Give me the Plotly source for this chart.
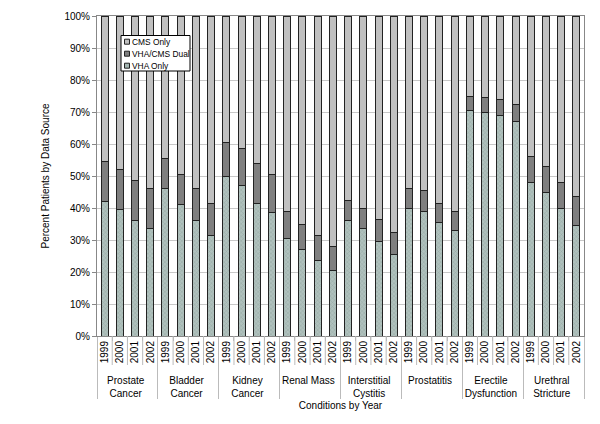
import plotly.graph_objects as go

conditions = ["Prostate<br>Cancer", "Bladder<br>Cancer", "Kidney<br>Cancer", "Renal Mass",
              "Interstitial<br>Cystitis", "Prostatitis", "Erectile<br>Dysfunction", "Urethral<br>Stricture"]
years = ["1999", "2000", "2001", "2002"]

vha_only = [42, 39.5, 36, 33.5,
            46, 41, 36, 31.5,
            50, 47, 41.5, 38.5,
            30.5, 27, 23.5, 20.5,
            36, 33.5, 29.5, 25.5,
            40, 39, 35.5, 33,
            70.5, 70, 69, 67,
            48, 45, 40, 34.5]
vha_plus_dual = [54.5, 52, 48.5, 46,
                 55.5, 50.5, 46, 41.5,
                 60.5, 58.5, 54, 50.5,
                 39, 35, 31.5, 28,
                 42.5, 40, 36.5, 32.5,
                 46, 45.5, 41.5, 39,
                 75, 74.5, 74, 72.5,
                 56, 53, 48, 43.5]
dual = [round(a - b, 2) for a, b in zip(vha_plus_dual, vha_only)]
cms_only = [round(100 - a, 2) for a in vha_plus_dual]

series_names = ["VHA Only", "VHA/CMS Dual", "CMS Only"]
series_colors = ["#a3b5b1", "#7f7f7f", "#c0c0c0"]

x_outer = [c for c in conditions for _ in years]
x_inner = [y for _ in conditions for y in years]
x = [x_outer, x_inner]

line = dict(color="#222222", width=1)
fig = go.Figure()
fig.add_bar(x=x, y=vha_only, name=series_names[0],
            marker=dict(color=series_colors[0], line=line,
                        pattern=dict(shape="x", size=3, fgcolor="#788d89", bgcolor="#b0c1bd", solidity=0.3)))
fig.add_bar(x=x, y=dual, name=series_names[1],
            marker=dict(color=series_colors[1], line=line))
fig.add_bar(x=x, y=cms_only, name=series_names[2],
            marker=dict(color=series_colors[2], line=line))

# page is rendered with an 8px body margin, so the figure is a bit smaller
OFF = 8
W, H = 592, 416
L, R, T, B = 89, 16, 8, 88
pw, ph = W - L - R, H - T - B


def px(xp):  # page x -> paper fraction
    return (xp - OFF - L) / pw


def py(yp):  # page y -> paper fraction
    return (H - B - (yp - OFF)) / ph


shapes = []
annotations = []

# long grey tick marks between the years inside each group (Excel style)
n_groups, n_years = len(conditions), len(years)
n = n_groups * n_years
for i in range(1, n):
    if i % n_years == 0:
        continue
    shapes.append(dict(type="line", xref="paper", yref="paper",
                       x0=i / n, x1=i / n, y0=0, y1=py(365),
                       line=dict(color="#bbbbbb", width=1)))

# compact legend box
shapes.append(dict(type="rect", xref="paper", yref="paper",
                   x0=px(121), x1=px(190), y0=py(71), y1=py(35.5),
                   line=dict(color="#000000", width=1), fillcolor="white", layer="above"))
legend_order = [2, 1, 0]
for i, k in enumerate(legend_order):
    cy = 41.7 + 12 * i
    shapes.append(dict(type="rect", xref="paper", yref="paper",
                       x0=px(124.5), x1=px(129.5), y0=py(cy + 2.5), y1=py(cy - 2.5),
                       line=dict(color="#222222", width=1), fillcolor=series_colors[k], layer="above"))
    annotations.append(dict(xref="paper", yref="paper", x=px(130), y=py(cy),
                            xanchor="left", yanchor="middle", text=series_names[k],
                            showarrow=False, font=dict(size=8.4)))

fig.update_layout(
    barmode="stack", bargap=0.54,
    width=W, height=H,
    margin=dict(l=L, r=R, t=T, b=B),
    paper_bgcolor="white", plot_bgcolor="white",
    font=dict(family="Liberation Sans, Arial, sans-serif", size=10, color="#000000"),
    showlegend=False,
    shapes=shapes, annotations=annotations,
)
fig.update_yaxes(range=[0, 100], tickvals=list(range(0, 101, 10)),
                 ticktext=[f"{v}%" for v in range(0, 101, 10)],
                 automargin=False,
                 showgrid=True, gridcolor="#c8c8c8", gridwidth=1,
                 showline=True, linecolor="#888888", mirror=True,
                 ticks="outside", ticklen=4, tickcolor="#888888",
                 title=dict(text="Percent Patients by Data Source", font=dict(size=10), standoff=12))
fig.update_xaxes(type="multicategory", tickangle=-90, automargin=False,
                 showline=True, linecolor="#888888", mirror=True,
                 ticks="outside", tickcolor="#bbbbbb", ticklen=4,
                 showdividers=True, dividercolor="#bbbbbb",
                 title=dict(text="Conditions by Year", font=dict(size=10), standoff=4))

fig.write_html("out.html")
